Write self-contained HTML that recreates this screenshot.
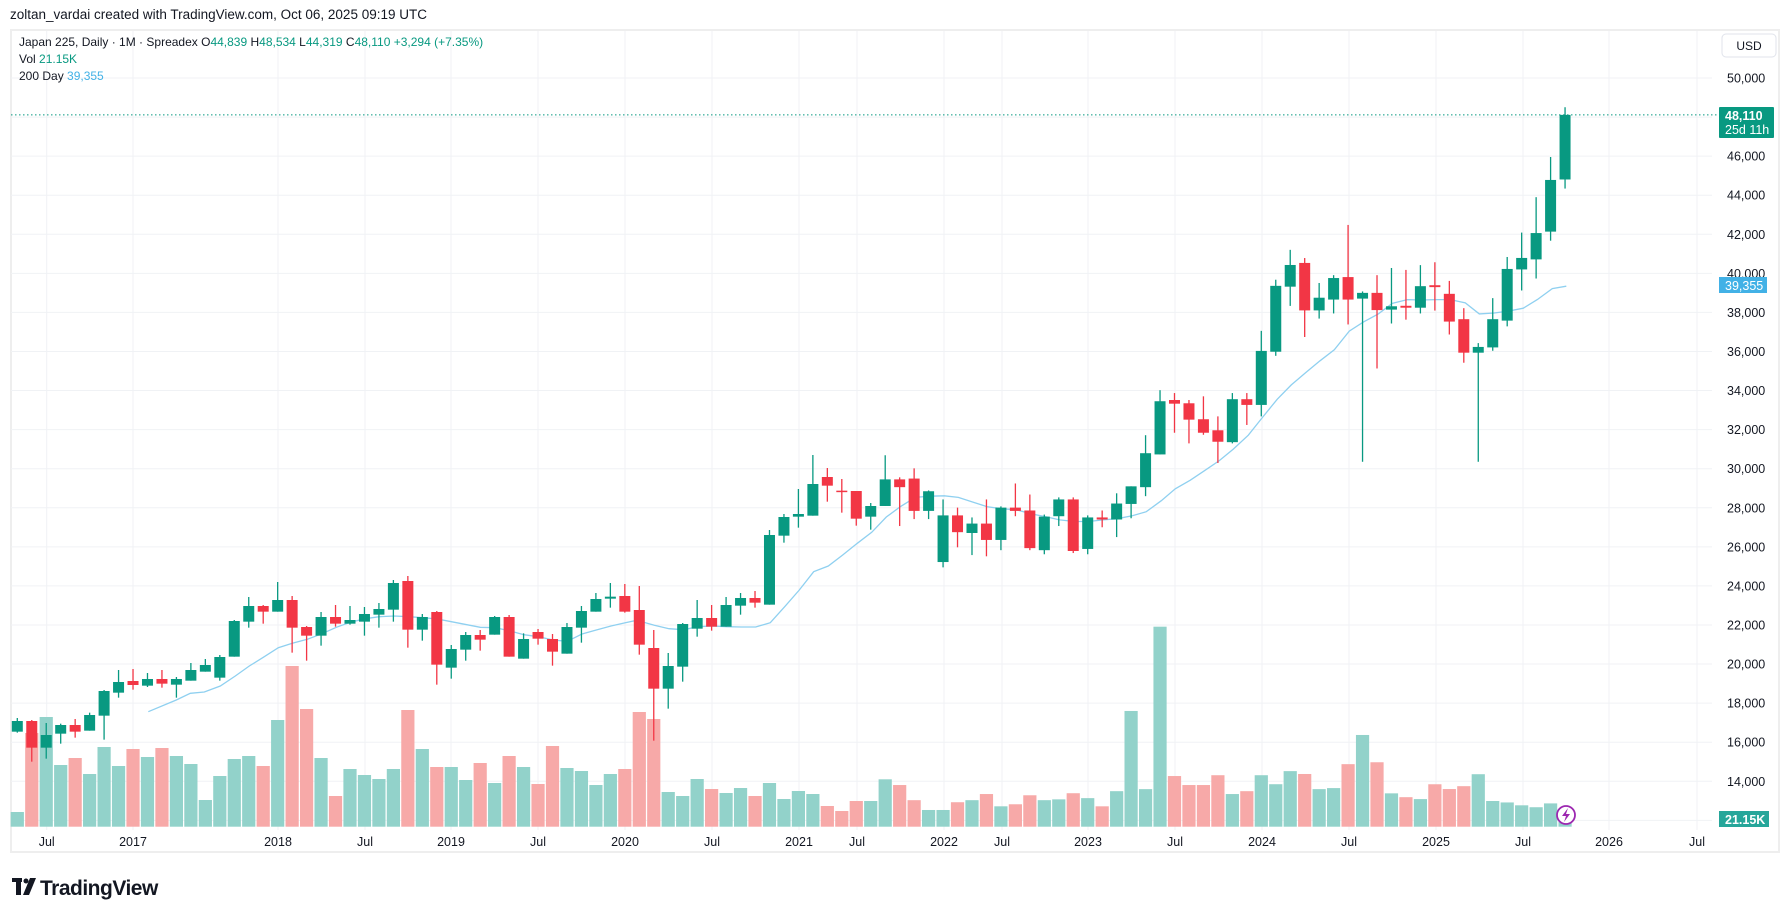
<!DOCTYPE html>
<html><head><meta charset="utf-8"><style>
html,body{margin:0;padding:0;background:#fff;width:1790px;height:915px;overflow:hidden}
svg{display:block}
text{font-family:"Liberation Sans",sans-serif}
</style></head><body>
<svg id="s" width="1790" height="915" viewBox="0 0 1790 915" xmlns="http://www.w3.org/2000/svg">
<rect x="0" y="0" width="1790" height="915" fill="#fff"/>
<rect x="11" y="30" width="1768" height="822" fill="#fff" stroke="#eeeeee" stroke-width="2"/>
<g id="grid"></g>
<g id="vol"></g>
<g id="ma"></g>
<g id="cdl"></g>
<line x1="11" y1="114.9" x2="1719" y2="114.9" stroke="#089981" stroke-width="1" stroke-dasharray="1.5,2.5"/>
<text x="10" y="19" font-size="13.5" fill="#131722">zoltan_vardai created with TradingView.com, Oct 06, 2025 09:19 UTC</text>
<text x="19" y="46" font-size="12" fill="#131722">Japan 225, Daily · 1M · Spreadex  <tspan>O</tspan><tspan fill="#089981">44,839</tspan>  H<tspan fill="#089981">48,534</tspan>  L<tspan fill="#089981">44,319</tspan>  C<tspan fill="#089981">48,110</tspan>  <tspan fill="#089981">+3,294 (+7.35%)</tspan></text>
<text x="19" y="63" font-size="12" fill="#131722">Vol  <tspan fill="#089981">21.15K</tspan></text>
<text x="19" y="80" font-size="12" fill="#131722">200 Day  <tspan fill="#42b1e6">39,355</tspan></text>
<rect x="1722" y="34" width="54" height="23" rx="4" fill="#fff" stroke="#e0e3eb"/>
<text x="1749" y="50" font-size="12" fill="#131722" text-anchor="middle">USD</text>
<g id="plab" font-size="12.5" fill="#131722"></g>
<rect x="1719" y="107" width="55" height="31" rx="1" fill="#089981"/>
<text x="1725" y="120" font-size="12.5" fill="#fff" font-weight="bold">48,110</text>
<text x="1725" y="134" font-size="12.5" fill="#fff">25d 11h</text>
<rect x="1719" y="277" width="48" height="16" fill="#42b1e6"/>
<text x="1725" y="290" font-size="12.5" fill="#fff">39,355</text>
<rect x="1719" y="811" width="50" height="16" fill="#26a69a"/>
<text x="1725" y="824" font-size="12.5" fill="#fff" font-weight="bold">21.15K</text>
<g id="tlab" font-size="12.5" fill="#131722" text-anchor="middle"></g>
<circle cx="1566" cy="815" r="9" fill="#fff" stroke="#9c27b0" stroke-width="1.8"/>
<path d="M1568 808 L1562 816 L1566 816 L1564 822 L1570 814 L1566 814 Z" fill="#9c27b0"/>
<g fill="#131722">
<rect x="12" y="878" width="10" height="4"/><rect x="16" y="878" width="5" height="17"/>
<circle cx="26" cy="881" r="2.5"/><path d="M30 878 L36 878 L29 895 L23 895 Z"/>
</g>
<text x="40" y="895" font-size="21" font-weight="bold" fill="#131722" letter-spacing="-0.5">TradingView</text>
</svg>
<script>
const NS="http://www.w3.org/2000/svg";
function el(p,t,a){const e=document.createElementNS(NS,t);for(const k in a)e.setAttribute(k,a[k]);document.getElementById(p).appendChild(e);return e;}
const X=i=>17.3+14.465*i;
const PY=p=>78+(50000-p)/2000*39.07;
// grid
for(let p=12000;p<=50000;p+=2000){const y=PY(p);el('grid','line',{x1:11,x2:1712,y1:y,y2:y,stroke:'#f0f2f5','stroke-width':1});
 if(p>=14000){const t=el('plab','text',{x:1727,y:y+4.5});t.textContent=(p/1000)+',000';}}
const tl=[[46.7,'Jul'],[133,'2017'],[278,'2018'],[365,'Jul'],[451,'2019'],[538,'Jul'],[625,'2020'],[712,'Jul'],[799,'2021'],[857,'Jul'],[944,'2022'],[1002,'Jul'],[1088,'2023'],[1175,'Jul'],[1262,'2024'],[1349,'Jul'],[1436,'2025'],[1523,'Jul'],[1609,'2026'],[1697,'Jul']];
tl.forEach(([x,s])=>{el('grid','line',{x1:x,x2:x,y1:31,y2:830,stroke:'#f0f2f5','stroke-width':1});const t=el('tlab','text',{x:x,y:846});t.textContent=s;});
const z6=v=>560+v/3,z7=v=>440+v/3,z8=v=>198.7+v/2.444,z9=v=>90+v/2.09;
const C=[];
function add(f,arr,start){arr.forEach((d,k)=>{C[start+k]={g:d[0]=='G',bt:f(d[1]),bb:f(d[2]),wt:f(d[3]),wb:f(d[4])};});}
add(z6,[['G',483,515,474,518],['R',483,563,480,605],['G',525,563,489,596],['G',495,521,491,551],['R',495,515,477,533],['G',465,512,458,512],['G',393,467,390,539],['G',366,398,330,413],['R',363,375,327,389],['G',357,377,339,381],['R',357,371,330,383],['G',357,374,351,413],['G',330,362,309,362],['G',315,335,297,335],['G',291,353,285,362],['G',183,290,180,290],['G',138,185,111,203],['R',138,155,135,191],['G',120,155,66,155],['R',120,203,108,278],['R',201,227,198,302],['G',171,227,156,257],['R',171,191,135,200],['G',180,191,138,194],['G',162,185,141,227],['G',147,164,129,203],['G',69,149,60,185],['R',63,209,48,263],['G',171,209,162,242],['R',156,314,153,374]],0);
add(z7,[['G',627,683,615,716],['G',585,629,576,662],['R',585,599,570,632],['G',531,584,528,584],['R',531,650,525,650],['G',597,656,580,656],['R',576,596,567,614],['R',597,635,582,677],['G',561,641,549,641],['G',513,563,498,608],['G',477,515,459,515],['G',470,476,429,503],['R',468,515,432,518],['R',510,614,438,644],['R',624,746,570,902],['G',678,746,639,806],['G',552,680,549,725],['G',534,566,480,590],['R',534,560,495,572],['G',495,560,471,560],['G',474,497,459,524],['R',474,488,453,503],['G',285,494,270,494],['G',231,287,222,308],['G',222,230,147,263],['G',132,227,45,227],['R',111,137,84,185],['R',152,156,117,218],['R',153,236,153,257],['G',198,230,189,269]],30);
add(z8,[['G',686,751,627,751],['R',686,705,681,800],['R',684,763,659,783],['G',715,763,713,783],['G',774,888,735,901],['R',774,815,755,852],['G',794,817,779,871],['R',794,834,735,874],['G',755,834,752,859],['R',755,763,696,776],['R',762,854,723,859],['G',777,859,772,869],['G',735,776,730,800],['R',735,861,730,866],['G',779,856,774,869],['R',779,784,762,803],['G',745,784,720,827],['G',703,746,703,781],['G',622,705,578,727],['G',495,625,468,625],['R',492,501,475,572],['R',500,540,492,598],['R',539,572,483,577],['R',566,594,532,646],['G',490,595,475,598],['R',490,504,475,553],['G',372,504,323,532],['G',213,374,198,384],['G',162,215,125,262],['R',157,273,145,338],['G',242,273,206,293]],60);
add(z9,[['G',393,438,387,467],['R',391,438,282,490],['G',424,436,421,777],['R',424,460,387,582],['G',452,459,372,488],['R',451,455,376,480],['G',410,455,366,467],['R',408,412,360,461],['R',426,484,399,511],['R',479,549,456,570],['G',537,549,529,777],['G',479,538,435,545],['G',374,482,349,494],['G',351,375,298,419],['G',299,354,224,394],['G',188,296,140,315],['G',52,187,36,206]],91);
// volumes
const V=[];
[756,519,471,615,594,642,561,618,567,591,564,588,612,720,648,597,588,618,480,318,447,594,708,627,645,657,627,450,567,621].forEach((v,k)=>V[k]=z6(v));
[981,1020,969,1029,948,981,1032,918,984,993,1035,1002,987,816,837,1056,1068,1017,1047,1059,1044,1068,1029,1077,1053,1062,1098,1113,1083,1083].forEach((v,k)=>V[30+k]=z7(v));
[1419,1433,1470,1494,1494,1475,1470,1455,1485,1480,1458,1470,1468,1453,1465,1485,1448,1252,1443,1046,1411,1433,1433,1409,1455,1448,1409,1431,1399,1406,1443].forEach((v,k)=>V[60+k]=z8(v));
[1459,1409,1348,1405,1470,1478,1482,1451,1461,1455,1430,1486,1489,1495,1499,1491,1510].forEach((v,k)=>V[91+k]=z9(v));
const VB=826.7;
V.forEach((y,i)=>{const c=C[i];el('vol','rect',{x:X(i)-6.6,y:y,width:13.2,height:VB-y,fill:c.g?'#92d2ca':'#f7a9a8'});});
// MA
const P=[];
[[445,455],[529,420],[571,400],[613,396],[661,378],[706,348],[748,318],[790,292],[835,263],[877,250],[922,238],[964,222],[1009,202],[1051,187],[1096,176],[1138,170],[1183,168],[1225,170],[1270,173],[1312,177]].forEach(([x,y])=>P.push([x/3,z6(y)]));
[[34,545],[121,562],[165,563],[208,572],[252,584],[295,590],[339,600],[382,604],[426,582],[469,570],[513,558],[556,548],[590,541],[643,556],[687,566],[730,569],[774,560],[817,558],[860,560],[904,561],[947,561],[991,548],[1034,500],[1078,450],[1121,395],[1165,378],[1208,345],[1252,310],[1295,277]].forEach(([x,y])=>P.push([440+x/3,z7(y)]));
[[19,778],[62,752],[106,730],[148,727],[193,726],[235,730],[280,742],[322,753],[367,758],[409,760],[452,770],[496,777],[539,785],[583,789],[625,789],[670,785],[712,782],[757,775],[799,765],[844,738],[886,709],[931,688],[973,665],[1018,640],[1060,612],[1105,578],[1147,535],[1192,490],[1234,455],[1277,425]].forEach(([x,y])=>P.push([880+x/3,z8(y)]));
[[0,566],[43,543],[88,504],[130,485],[175,468],[217,446],[262,438],[304,439],[349,438],[391,438],[436,445],[478,468],[523,466],[565,462],[610,456],[652,438],[697,415],[739,410]].forEach(([x,y])=>P.push([1320+x/3,z9(y)]));
el('ma','polyline',{points:P.map(p=>p[0].toFixed(1)+','+p[1].toFixed(1)).join(' '),fill:'none',stroke:'#8fd0f0','stroke-width':1.3});
// candles
C.forEach((c,i)=>{const x=X(i),col=c.g?'#089981':'#f23645';
 el('cdl','rect',{x:x-0.65,y:c.wt,width:1.3,height:Math.max(1,c.wb-c.wt),fill:col});
 el('cdl','rect',{x:x-5.5,y:c.bt,width:11,height:Math.max(1.5,c.bb-c.bt),fill:col});});
</script>
</body></html>
